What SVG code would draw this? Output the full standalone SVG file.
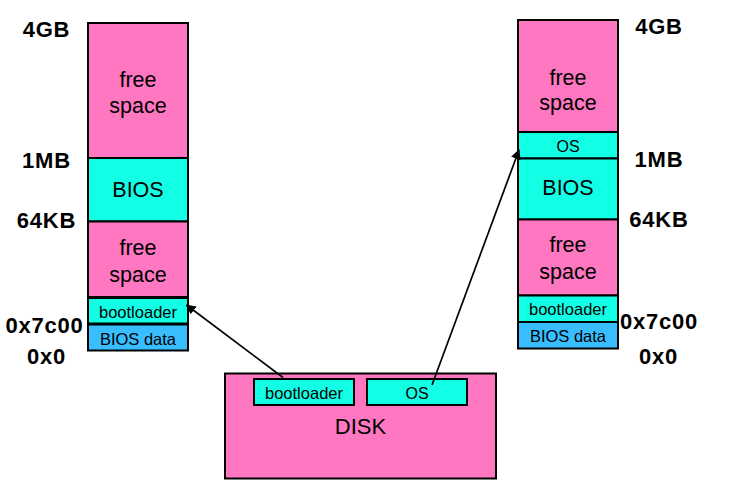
<svg xmlns="http://www.w3.org/2000/svg" width="735" height="498" viewBox="0 0 735 498">
<style>
.pink{fill:#FF77C1;stroke:#000;stroke-width:2}
.cyan{fill:#12FFE6;stroke:#000;stroke-width:2}
.blue{fill:#38BDFF;stroke:#000;stroke-width:2}
text{font-family:"Liberation Sans",Arial,Helvetica,sans-serif;fill:#000;text-anchor:middle}
.lbl{font-size:22px;font-weight:bold;letter-spacing:0.8px}
.big{font-size:21.5px}
.sm{font-size:16.5px}
.os{font-size:16px}
.conn{stroke:#000;stroke-width:1.7;fill:none;marker-end:url(#ah)}
</style>
<defs>
<marker id="ah" viewBox="0 0 10 10" refX="9" refY="5" markerWidth="10" markerHeight="10" markerUnits="userSpaceOnUse" orient="auto">
<path d="M0,0 L10,5 L0,10 z" fill="#000"/>
</marker>
</defs>
<rect width="735" height="498" fill="#fff"/>
<g id="left-memory">
<rect class="pink" x="88" y="23" width="100" height="135"/>
<text class="big" x="138" y="87">free</text>
<text class="big" x="138" y="113">space</text>
<rect class="cyan" x="88" y="158" width="100" height="63.5"/>
<text class="big" x="138" y="197">BIOS</text>
<rect class="pink" x="88" y="221.5" width="100" height="75.5"/>
<text class="big" x="138" y="255">free</text>
<text class="big" x="138" y="281.5">space</text>
<rect class="cyan" x="88" y="298" width="100" height="25.5"/>
<text class="sm" x="138" y="318">bootloader</text>
<rect class="blue" x="88" y="324.5" width="100" height="26"/>
<text class="sm" x="138" y="345">BIOS data</text>
</g>
<g id="left-labels">
<text class="lbl" x="46.5" y="36.5">4GB</text>
<text class="lbl" x="46.5" y="168">1MB</text>
<text class="lbl" x="46.5" y="227.5">64KB</text>
<text class="lbl" x="44.5" y="332.5">0x7c00</text>
<text class="lbl" x="46.5" y="363.5">0x0</text>
</g>
<g id="right-memory">
<rect class="pink" x="518" y="20" width="100" height="112"/>
<text class="big" x="568" y="85">free</text>
<text class="big" x="568" y="110">space</text>
<rect class="cyan" x="518" y="132" width="100" height="26.5"/>
<text class="os" x="568" y="151.5">OS</text>
<rect class="cyan" x="518" y="158.5" width="100" height="61"/>
<text class="big" x="568" y="194.5">BIOS</text>
<rect class="pink" x="518" y="219.5" width="100" height="76"/>
<text class="big" x="568" y="251.5">free</text>
<text class="big" x="568" y="278.5">space</text>
<rect class="cyan" x="518" y="295.5" width="100" height="26.5"/>
<text class="sm" x="568" y="315">bootloader</text>
<rect class="blue" x="518" y="322" width="100" height="26.5"/>
<text class="sm" x="568" y="341.5">BIOS data</text>
</g>
<g id="right-labels">
<text class="lbl" x="659" y="33.5">4GB</text>
<text class="lbl" x="659" y="166.5">1MB</text>
<text class="lbl" x="659" y="226.5">64KB</text>
<text class="lbl" x="659" y="328.5">0x7c00</text>
<text class="lbl" x="658.5" y="363.5">0x0</text>
</g>
<g id="disk">
<rect class="pink" x="225" y="373.5" width="271" height="105"/>
<rect class="cyan" x="254" y="379" width="100" height="26"/>
<text class="sm" x="304" y="398.5">bootloader</text>
<rect class="cyan" x="367" y="379" width="100" height="26"/>
<text class="os" x="417" y="398.5">OS</text>
<text style="font-size:22px" x="360.5" y="433.5">DISK</text>
</g>
<g id="connectors">
<line class="conn" x1="283" y1="377.5" x2="186.5" y2="305"/>
<line class="conn" x1="432" y1="385" x2="519" y2="150"/>
</g>
</svg>
